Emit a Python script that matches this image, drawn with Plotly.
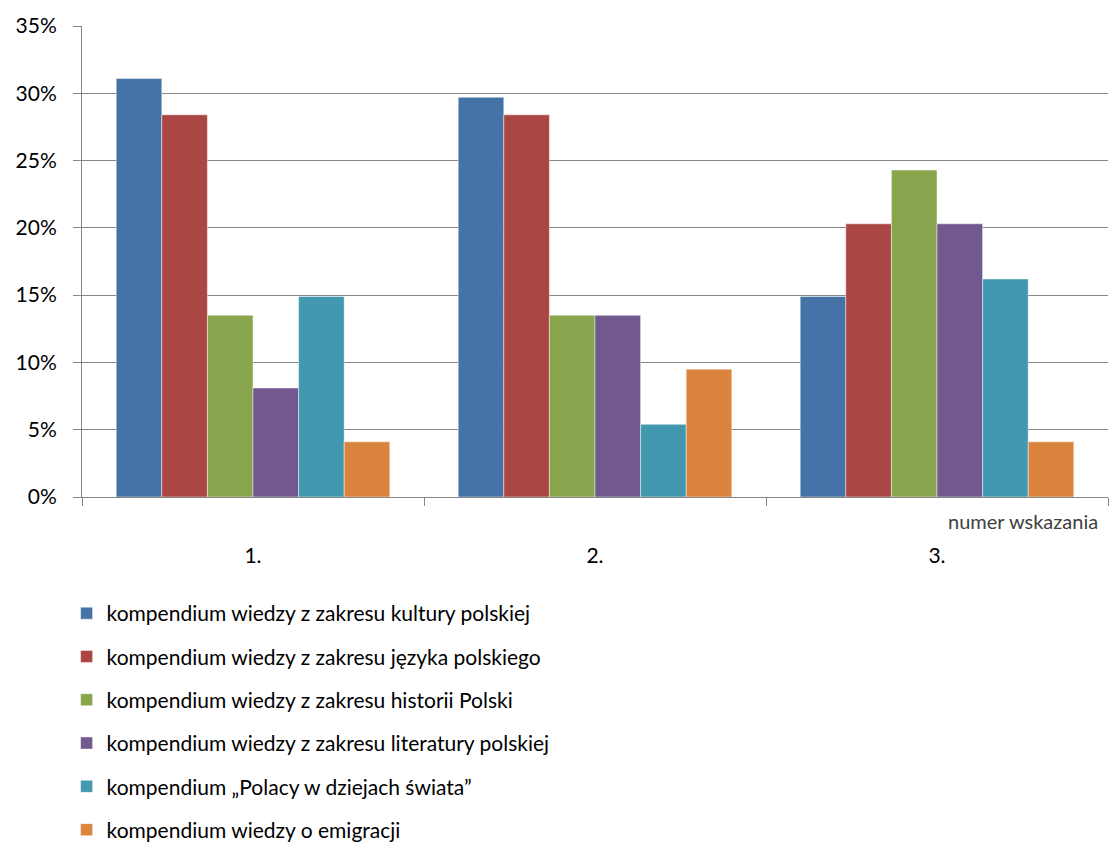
import plotly.graph_objects as go

# Share of answers (%) by position of the indication
categories = ["1.", "2.", "3."]
series_names = [
    "kompendium wiedzy z zakresu kultury polskiej",
    "kompendium wiedzy z zakresu języka polskiego",
    "kompendium wiedzy z zakresu historii Polski",
    "kompendium wiedzy z zakresu literatury polskiej",
    "kompendium „Polacy w dziejach świata”",
    "kompendium wiedzy o emigracji",
]
kultura = [31.1, 29.7, 14.9]
jezyk = [28.4, 28.4, 20.3]
historia = [13.5, 13.5, 24.3]
literatura = [8.1, 13.5, 20.3]
polacy = [14.9, 5.4, 16.2]
emigracja = [4.1, 9.5, 4.1]
y_ticks = [0, 5, 10, 15, 20, 25, 30, 35]
y_tick_labels = [f"{v}%" for v in y_ticks]
x_axis_title = "numer wskazania"

series_values = [kultura, jezyk, historia, literatura, polacy, emigracja]
colors = ["#4572A7", "#AA4643", "#89A54E", "#71588F", "#4198AF", "#DB843D"]

FONT = "Lato, Open Sans, sans-serif"

fig = go.Figure()
for name, vals, col in zip(series_names, series_values, colors):
    fig.add_trace(go.Bar(
        x=categories, y=vals, name=name,
        marker=dict(color=col, line=dict(color="rgba(255,255,255,0.45)", width=1)),
        legendgroup=name,
    ))

fig.update_layout(
    width=1110, height=843,
    margin=dict(l=82, r=2, t=26, b=346, autoexpand=False),
    paper_bgcolor="white", plot_bgcolor="white",
    barmode="group", bargap=0.2, bargroupgap=0,
    font=dict(family=FONT, color="#000000"),
    showlegend=True,
    legend=dict(
        orientation="v", xref="container", yref="container",
        x=0.060, xanchor="left", y=1 - 593 / 843, yanchor="top",
        font=dict(size=21, color="#000000", family=FONT),
        tracegroupgap=13, itemclick=False, itemdoubleclick=False,
        bgcolor="rgba(0,0,0,0)",
    ),
    xaxis=dict(
        showgrid=False, showline=True, linecolor="#868686", linewidth=1,
        ticks="outside", tickson="boundaries", ticklen=8, tickcolor="#868686",
        tickfont=dict(size=21, color="#000000"), ticklabelstandoff=40,
        fixedrange=True,
    ),
    yaxis=dict(
        range=[0, 35], tickmode="array", tickvals=y_ticks, ticktext=y_tick_labels,
        showgrid=True, gridcolor="#868686", gridwidth=1,
        showline=True, linecolor="#868686", linewidth=1,
        ticks="outside", ticklen=8, tickcolor="#868686",
        tickfont=dict(size=21, color="#000000"), ticklabelstandoff=12,
        zeroline=False, fixedrange=True,
    ),
    annotations=[dict(
        text=x_axis_title, xref="paper", yref="paper", x=0.992, y=-0.022,
        xanchor="right", yanchor="top", showarrow=False,
        font=dict(size=20, color="#404040", family=FONT),
    )],
)

fig.write_html("out.html")
